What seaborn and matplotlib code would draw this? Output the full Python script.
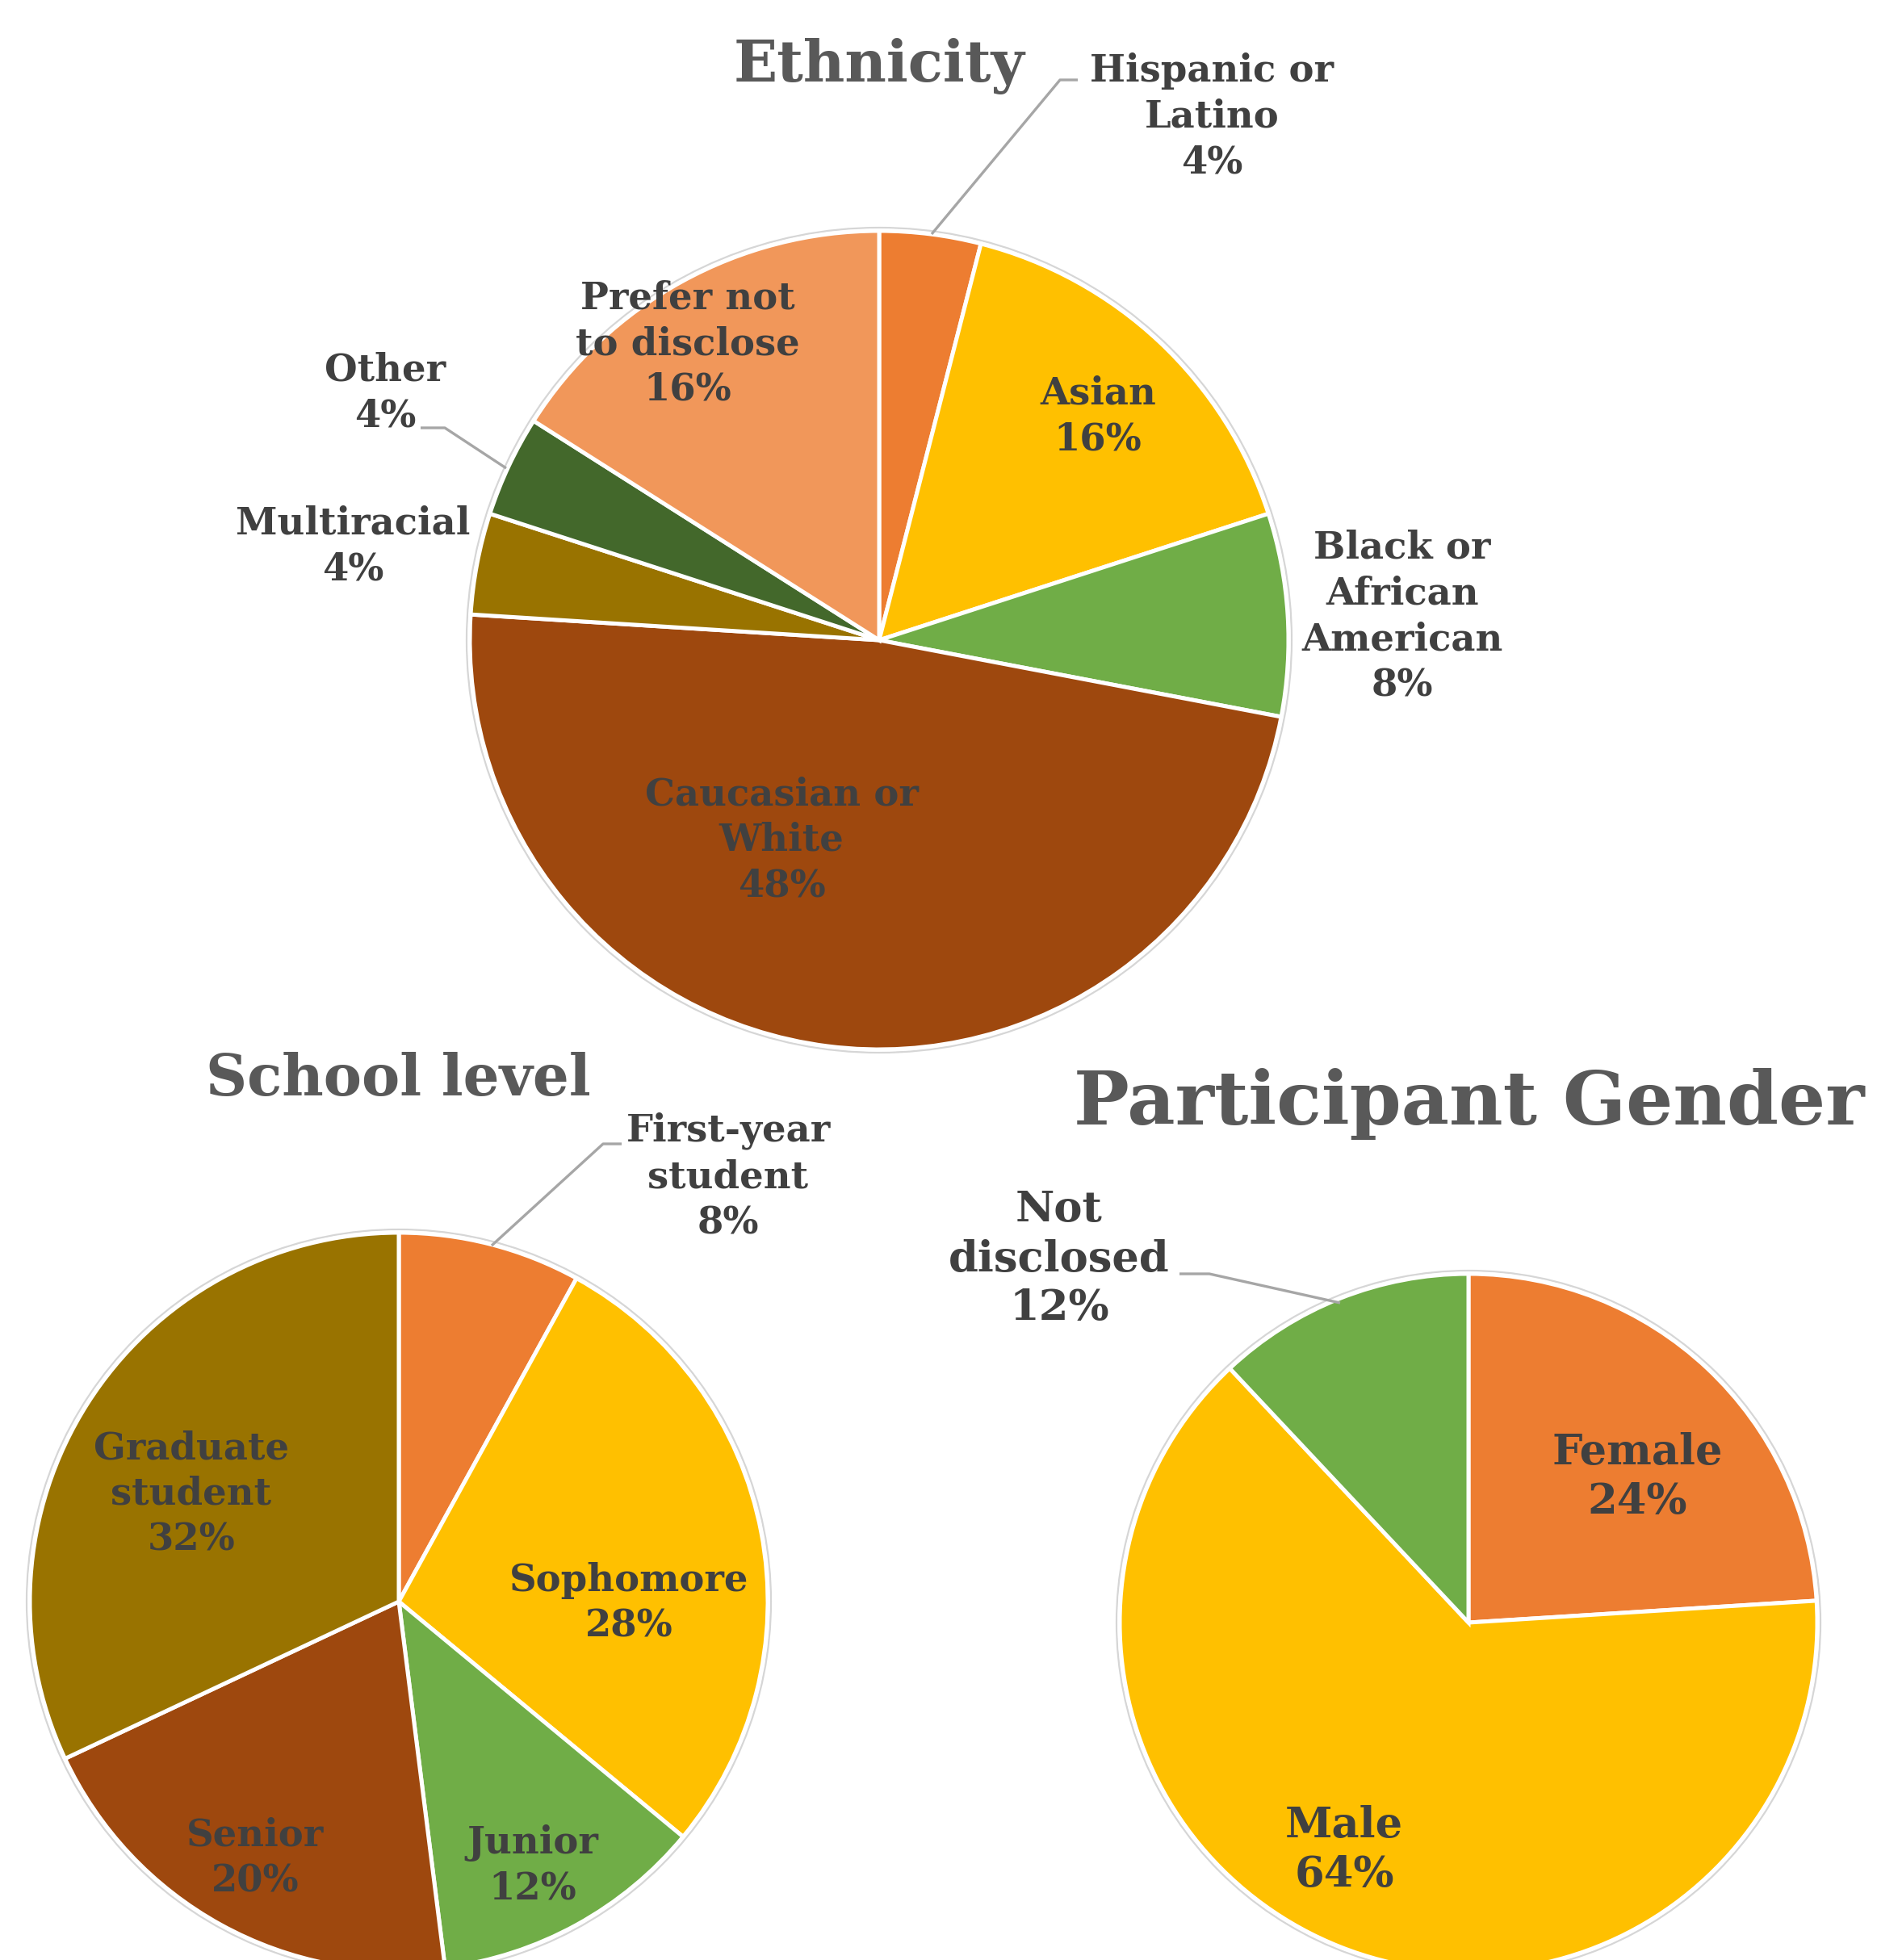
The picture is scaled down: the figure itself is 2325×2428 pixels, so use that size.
import matplotlib
matplotlib.use("Agg")
import matplotlib.pyplot as plt
import seaborn as sns
from matplotlib.patches import Circle

# ---- data ----
eth_labels = ["Hispanic or\nLatino", "Asian", "Black or\nAfrican\nAmerican",
              "Caucasian or\nWhite", "Multiracial", "Other", "Prefer not\nto disclose"]
eth_values = [4, 16, 8, 48, 4, 4, 16]

school_labels = ["First-year\nstudent", "Sophomore", "Junior", "Senior", "Graduate\nstudent"]
school_values = [8, 28, 12, 20, 32]

gender_labels = ["Female", "Male", "Not\ndisclosed"]
gender_values = [24, 64, 12]

# ---- colours ----
ORANGE = "#ED7D31"
GOLD = "#FFC000"
GREEN = "#70AD47"
BROWN = "#9E480E"
OLIVE = "#997300"
DKGREEN = "#43682B"
LTORANGE = "#F1975A"

eth_colors = [ORANGE, GOLD, GREEN, BROWN, OLIVE, DKGREEN, LTORANGE]
school_colors = [ORANGE, GOLD, GREEN, BROWN, OLIVE]
gender_colors = [ORANGE, GOLD, GREEN]

TITLE_C = "#595959"
LABEL_C = "#404040"
LEADER_C = "#A6A6A6"

sns.set_theme(style="white")
plt.rcParams["font.family"] = ["DejaVu Serif"]

W, H = 2325, 2428
fig = plt.figure(figsize=(W / 100, H / 100), dpi=100)
ax = fig.add_axes([0, 0, 1, 1])


def P(x, y):
    """top-left-origin pixel position -> data coords"""
    return x, H - y


def draw_pie(values, colors, cx, cy, r):
    ax.pie(values, colors=colors, startangle=90, counterclock=False,
           center=P(cx, cy), radius=r,
           wedgeprops=dict(edgecolor="white", linewidth=3.6))
    ax.add_patch(Circle(P(cx, cy), r + 4, facecolor="none",
                        edgecolor="#D6D6D6", linewidth=1.6, zorder=0.5))


def label(text, value, x, y, size=33.5, spacing=1.3):
    ax.text(*P(x, y), f"{text}\n{value}%", ha="center", va="center",
            fontsize=size, fontweight="bold", color=LABEL_C,
            linespacing=spacing, zorder=5)


def leader(points):
    xs = [p[0] for p in points]
    ys = [H - p[1] for p in points]
    ax.plot(xs, ys, color=LEADER_C, linewidth=2.4, solid_capstyle="butt", zorder=4)


# ---- Ethnicity ----
draw_pie(eth_values, eth_colors, 1089, 793, 507)
ax.text(*P(1089, 82), "Ethnicity", ha="center", va="center",
        fontsize=51, fontweight="bold", color=TITLE_C)
eth_pos = [(1501, 145), (1360, 516), (1737, 764), (968, 1041),
           (437, 677), (477, 487), (852, 426)]
for t, v, (x, y) in zip(eth_labels, eth_values, eth_pos):
    label(t, v, x, y)
leader([(1335, 99), (1313, 99), (1154, 290)])
leader([(521, 530), (551, 530), (627, 580)])

# ---- School level ----
draw_pie(school_values, school_colors, 494, 1984, 457)
ax.text(*P(493, 1337), "School level", ha="center", va="center",
        fontsize=51, fontweight="bold", color=TITLE_C)
school_pos = [(902, 1458), (779, 1986), (660, 2311), (316, 2302), (237, 1851)]
for t, v, (x, y) in zip(school_labels, school_values, school_pos):
    label(t, v, x, y)
leader([(770, 1417), (747, 1417), (609, 1543)])

# ---- Participant Gender ----
draw_pie(gender_values, gender_colors, 1819, 2010, 432)
ax.text(*P(1820, 1368), "Participant Gender", ha="center", va="center",
        fontsize=66, fontweight="bold", color=TITLE_C)
gender_pos = [(2028, 1830), (1665, 2292), (1312, 1560)]
for t, v, (x, y) in zip(gender_labels, gender_values, gender_pos):
    label(t, v, x, y, size=38, spacing=1.25)
leader([(1461, 1578), (1498, 1578), (1660, 1614)])

ax.set_xlim(0, W)
ax.set_ylim(0, H)
ax.set_aspect("equal")
ax.axis("off")

fig.savefig("out.png", dpi=100, facecolor="white")
